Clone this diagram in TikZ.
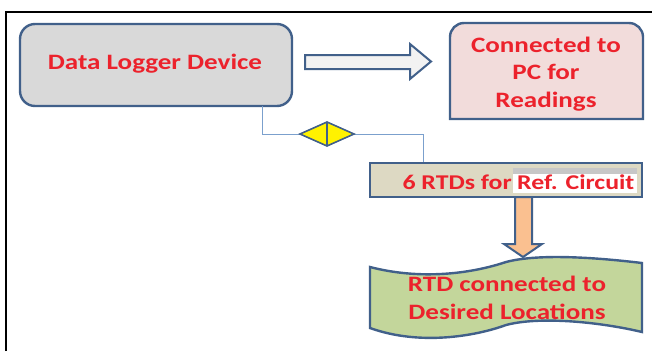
\documentclass[tikz,border=0pt]{standalone}
\usepackage{fontspec}
\setmainfont{Carlito}
\newfontfamily\lblfont[FakeStretch=1.23]{Carlito}
\usetikzlibrary{calc}
\definecolor{bordc}{RGB}{65,96,138}
\definecolor{linec}{RGB}{123,160,205}
\definecolor{txtc}{RGB}{236,34,44}
\definecolor{grayf}{RGB}{217,217,217}
\definecolor{pinkf}{RGB}{242,220,219}
\definecolor{tanf}{RGB}{221,217,195}
\definecolor{peachf}{RGB}{250,192,144}
\definecolor{greenf}{RGB}{195,214,155}
\definecolor{arrf}{RGB}{242,242,242}
\tikzset{
  box/.style={draw=bordc, line width=2.4pt},
  lbl/.style={text=txtc, font=\lblfont\bfseries\fontsize{22}{27.5}\selectfont, align=center},
  rlbl/.style={text=txtc, font=\lblfont\bfseries\fontsize{21}{25}\selectfont, inner sep=0pt},
  conn/.style={draw=linec, line width=1pt},
}
\begin{document}
\begin{tikzpicture}[x=1pt,y=-1pt]
\useasboundingbox (0,0) rectangle (652,351);
% frame
\draw[black, line width=1.6pt] (6,351) -- (6,12) -- (652,12);
% Data logger
\draw[box, fill=grayf, rounded corners=15pt] (20,24) rectangle (292,106);
\node[lbl] (dl) at (155,64) {Data Logger Device};
% right block arrow
\draw[box, fill=arrf, line width=2pt] (305,55) -- (410,55) -- (410,44) -- (431,61.5) -- (410,79) -- (410,69) -- (305,69) -- cycle;
% Connected box
\draw[box, fill=pinkf] (450,119) -- (450,38) [rounded corners=14pt] -- (450,23) -- (643,23) [sharp corners] -- (643,38) -- (643,119) -- cycle;
\node[lbl] (pc) at (546,74) {Connected to\\PC for\\Readings};
% connector
\coordinate (c1) at (262,106);
\coordinate (c2) at (262,134);
\coordinate (c3) at (423,134);
\coordinate (c4) at (423,163);
\draw[conn] (c1) -- (c2) -- (300,134);
\draw[conn] (354,134) -- (c3) -- (c4);
% diamond
\draw[draw=bordc, line width=1.6pt, fill=yellow] (300,134) -- (327,122) -- (354,134) -- (327,146) -- cycle;
\draw[draw=bordc, line width=1.2pt] (327,123) -- (327,145);
% RTD box
\draw[box, fill=tanf] (370,163) rectangle (642,197);
\fill[white] (513,168) rectangle (637,193);
\fill[black!22] (513,168) rectangle (637,174);
\node[rlbl, anchor=east] (rtd) at (512,182) {6 RTDs for};
\node[rlbl, anchor=west] (ref) at (517,182) {Ref. Circuit};
% down arrow
\draw[box, fill=peachf, line width=2pt] (515,197) -- (532,197) -- (532,244) -- (542,244) -- (523,257) -- (504,244) -- (515,244) -- cycle;
% punched tape
\draw[box, fill=greenf] (370,267) .. controls (420,280) and (470,274) .. (506,262)
  .. controls (540,253) and (600,258) .. (642,263) -- (642,332)
  .. controls (600,322) and (540,316) .. (506,325)
  .. controls (476,336) and (420,346) .. (370,328) -- cycle;
\node[lbl] (loc) at (507,298) {RTD connected to\\Desired Locations};
\end{tikzpicture}
\end{document}
